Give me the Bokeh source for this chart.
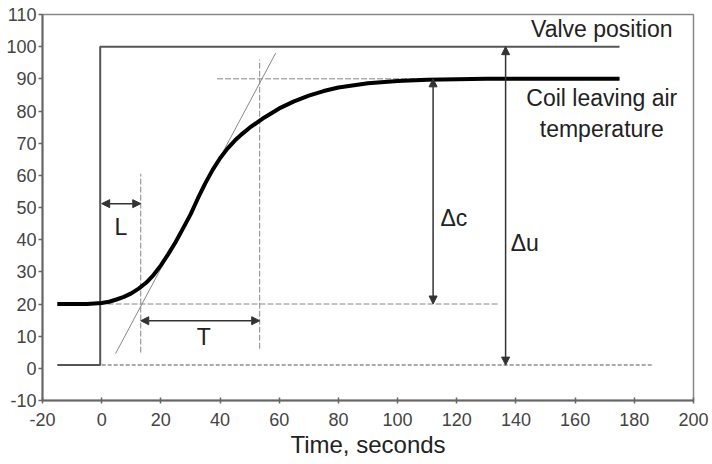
from bokeh.plotting import figure
from bokeh.models import Range1d, FixedTicker, Label, Arrow, NormalHead
from bokeh.embed import file_html
from bokeh.resources import INLINE

# ---- data ----
x_ticks = [-20, 0, 20, 40, 60, 80, 100, 120, 140, 160, 180, 200]
y_ticks = [-10, 0, 10, 20, 30, 40, 50, 60, 70, 80, 90, 100, 110]

valve_x = [-15, -0.5, -0.5, 175]
valve_y = [1, 1, 100, 100]

temp_x = [-15, -5, 0, 2.5, 5, 7.5, 10, 12.5, 15, 17.5, 20, 22.5, 25, 27.5, 30, 32.5, 35,
          37.5, 40, 42.5, 45, 47.5, 50, 55, 60, 65, 70, 75, 80, 90, 100, 110, 120, 130, 150, 175]
temp_y = [20, 20, 20.3, 20.7, 21.4, 22.2, 23.3, 24.8, 26.6, 29.0, 32.0, 35.5, 39.3, 43.5, 47.8, 52.8, 57.5,
          61.7, 65.3, 68.3, 70.8, 72.9, 74.8, 78.0, 80.8, 83.0, 84.8, 86.2, 87.3, 88.6, 89.3, 89.7, 89.9, 90, 90, 90]

tangent_x = [4.7, 58.8]
tangent_y = [4.6, 98]

L_start, L_end = 0, 13.2        # dead time
T_start, T_end = 13.2, 53.4     # time constant
c_low, c_high = 20, 90          # delta c
u_low, u_high = 1, 100          # delta u

font = "Liberation Sans"

p = figure(width=712, height=464, output_backend="svg", toolbar_location=None,
           x_range=Range1d(-20, 200), y_range=Range1d(-10, 110),
           min_border_left=42, min_border_right=19, min_border_top=14, min_border_bottom=64)
p.grid.visible = False
p.outline_line_color = "#888888"
p.outline_line_width = 1.5
p.background_fill_color = "white"
p.border_fill_color = "white"

for ax in (p.xaxis[0], p.yaxis[0]):
    ax.axis_line_color = "#666666"
    ax.axis_line_width = 2
    ax.major_tick_line_color = "#666666"
    ax.major_tick_line_width = 1.5
    ax.minor_tick_line_color = None
    ax.major_label_text_font = font
    ax.major_label_text_font_size = "18px"
    ax.major_label_text_color = "#444444"

p.xaxis.ticker = FixedTicker(ticks=x_ticks)
p.yaxis.ticker = FixedTicker(ticks=y_ticks)
p.xaxis.major_label_overrides = {t: str(t) for t in x_ticks}
p.yaxis.major_label_overrides = {t: str(t) for t in y_ticks}
p.xaxis.major_tick_in = 3
p.xaxis.major_tick_out = 3
p.yaxis.major_tick_in = 0
p.yaxis.major_tick_out = 4
p.xaxis.major_label_standoff = 9
p.yaxis.major_label_standoff = 2
p.xaxis.axis_label = "Time, seconds"
p.xaxis.axis_label_text_font = font
p.xaxis.axis_label_text_font_style = "normal"
p.xaxis.axis_label_text_font_size = "24px"
p.xaxis.axis_label_text_color = "#222222"
p.xaxis.axis_label_standoff = 2

# guide lines
p.line([0, 186], [u_low, u_low], line_color="#aaaaaa", line_width=2, line_dash="4 2")
p.line([2, 134], [c_low, c_low], line_color="#888888", line_width=1, line_dash="6 2")
p.line([39, 175], [c_high, c_high], line_color="#888888", line_width=1, line_dash="6 2")
p.line([L_end, L_end], [4.9, 60.5], line_color="#888888", line_width=1, line_dash="6 2")
p.line([T_end, T_end], [6.1, 96], line_color="#888888", line_width=1, line_dash="6 2")
p.line(tangent_x, tangent_y, line_color="#888888", line_width=1)

# series
p.line(valve_x, valve_y, line_color="#555555", line_width=2)
p.line(temp_x, temp_y, line_color="#000000", line_width=4, line_join="round")

# arrows
def arrow(x0, y0, x1, y1, color="#333333"):
    p.add_layout(Arrow(x_start=x0, y_start=y0, x_end=x1, y_end=y1,
                       line_color=color, line_width=1.5,
                       end=NormalHead(size=8, fill_color=color, line_color=color),
                       start=NormalHead(size=8, fill_color=color, line_color=color)))

arrow(L_start, 51.2, L_end, 51.2)
arrow(T_start, 14.8, T_end, 14.8)
arrow(112, c_low, 112, c_high)
arrow(136.5, u_low, 136.5, u_high)

def label(x, y, t):
    p.add_layout(Label(x=x, y=y, text=t, text_font=font, text_font_size="23px",
                       text_color="#222222", text_align="center", text_baseline="middle"))

label(6.5, 44, "L")
label(34.5, 9.6, "T")
label(119, 46.8, "Δc")
label(143, 39, "Δu")
label(169, 105.5, "Valve position")
label(169, 84.1, "Coil leaving air")
label(169, 74.5, "temperature")

open("out.html", "w").write(file_html(p, INLINE))
